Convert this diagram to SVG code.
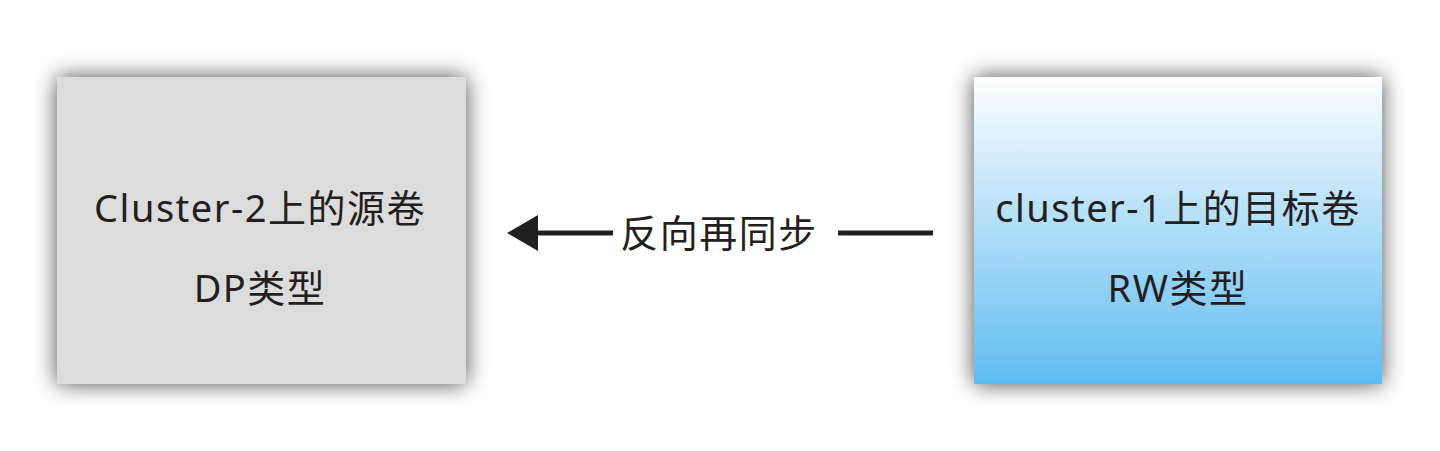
<svg xmlns="http://www.w3.org/2000/svg" width="1440" height="451" viewBox="0 0 1440 451">
  <defs>
    <filter id="shadow" x="-25%" y="-25%" width="150%" height="150%">
      <feDropShadow dx="0" dy="0" stdDeviation="11" flood-color="#000" flood-opacity="0.7"/>
    </filter>
    <linearGradient id="blue" x1="0" y1="0" x2="0" y2="1">
      <stop offset="0" stop-color="#fdfeff"/>
      <stop offset="1" stop-color="#5fbcf1"/>
    </linearGradient>
    <style>
      .label { font-family: "Noto Sans", "Noto Sans CJK SC", sans-serif; font-size: 38px; letter-spacing: 1.5px; fill: #231f20; text-anchor: middle; }
      .line { stroke: #231f20; stroke-width: 5; fill: none; }
    </style>
  </defs>
  <rect width="1440" height="451" fill="#ffffff"/>
  <g id="source">
    <rect x="57" y="77" width="409" height="307" fill="#dcdcdc" filter="url(#shadow)"/>
    <text class="label" x="260" y="222">Cluster-2上的源卷</text>
    <text class="label" x="260" y="302">DP类型</text>
  </g>
  <g id="target">
    <rect x="974" y="77" width="408" height="307" fill="url(#blue)" filter="url(#shadow)"/>
    <text class="label" x="1178" y="222">cluster-1上的目标卷</text>
    <text class="label" x="1178" y="302">RW类型</text>
  </g>
  <g id="connectors">
    <path class="line" d="M613,233 L538,233"/>
    <path d="M507,233 L538,215 L538,251 z" fill="#231f20"/>
    <path class="line" d="M838,233 L933,233"/>
    <text class="label" x="719" y="247">反向再同步</text>
  </g>
</svg>
